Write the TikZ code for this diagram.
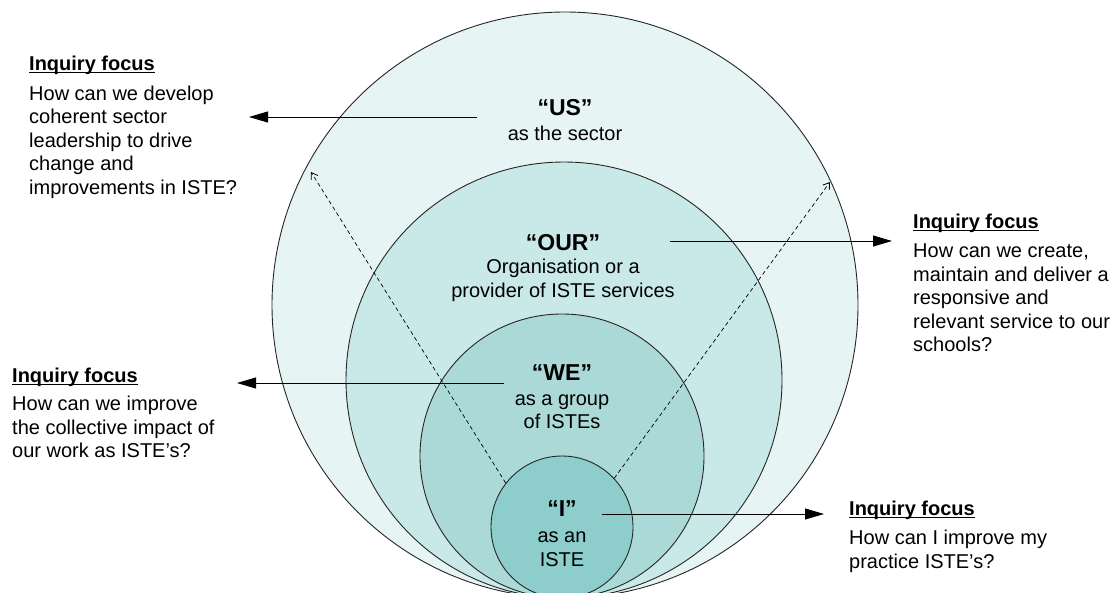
\documentclass[tikz,border=0pt]{standalone}
\usepackage{fontspec}
\setmainfont{Liberation Sans}
\usetikzlibrary{arrows.meta}

\definecolor{ringA}{HTML}{E7F4F4}
\definecolor{ringB}{HTML}{C9E8E8}
\definecolor{ringC}{HTML}{ABD9D8}
\definecolor{ringD}{HTML}{8DCDCB}

% bold heading with a rule just under the baseline
\newcommand\focustitle{\setbox0\hbox{\textbf{Inquiry focus}}\rlap{\rule[-3pt]{\wd0}{1.3pt}}\box0}

\tikzset{
  ring/.style={circle, draw=black!85, line width=0.9pt, inner sep=0pt, minimum size=#1},
  focus/.style={anchor=base west, inner sep=0pt, font=\fontsize{20}{23.5}\selectfont},
  level/.style={anchor=base, inner sep=0pt, font=\fontsize{20}{23.5}\selectfont},
  pointer/.style={line width=0.9pt, -{Triangle[length=19pt,width=11pt]}},
  spoke/.style={line width=0.7pt, dash pattern=on 4pt off 3pt, -{Straight Barb[length=6pt,width=8pt,line width=0.8pt]}}
}

\newcommand\lbl[1]{{\fontsize{23}{23.5}\selectfont\bfseries #1}}

\begin{document}
\begin{tikzpicture}[x=1pt,y=-1pt]
\useasboundingbox (0,0) rectangle (1113,592);
\begin{scope}
\clip (0,0) rectangle (1113,592);

% nested circles, all touching at the bottom
\node[ring=586pt, fill=ringA] (sector) at (565,305) {};
\node[ring=436pt, fill=ringB] (org)    at (564,380) {};
\node[ring=284pt, fill=ringC] (group)  at (562,456) {};
\node[ring=142pt, fill=ringD] (self)   at (562,527) {};

% dashed spokes
\coordinate (spokeL) at (311,172);
\coordinate (spokeR) at (830,182);
\draw[spoke] (self.142) -- (spokeL);
\draw[spoke] (self.43) -- (spokeR);

% arrows out to the inquiry questions
\coordinate (usFrom)  at (477,117);
\coordinate (usTo)    at (249,117);
\coordinate (ourFrom) at (670,241);
\coordinate (ourTo)   at (892,241);
\coordinate (weFrom)  at (504,383);
\coordinate (weTo)    at (237,383);
\coordinate (iFrom)   at (602,514);
\coordinate (iTo)     at (824,514);
\draw[pointer] (usFrom) -- (usTo);
\draw[pointer] (ourFrom) -- (ourTo);
\draw[pointer] (weFrom) -- (weTo);
\draw[pointer] (iFrom) -- (iTo);
\end{scope}

% labels inside the circles
\node[level] (usLbl) at (565,115)
  {\begin{tabular}[t]{@{}c@{}}\lbl{“US”}\\[1.5pt] as the sector\end{tabular}};
\node[level] (ourLbl) at (563,250)
  {\begin{tabular}[t]{@{}c@{}}\lbl{“OUR”}\\ Organisation or a\\ provider of ISTE services\end{tabular}};
\node[level] (weLbl) at (562,380)
  {\begin{tabular}[t]{@{}c@{}}\lbl{“WE”}\\[1.5pt] as a group\\ of ISTEs\end{tabular}};
\node[level] (iLbl) at (562,516)
  {\begin{tabular}[t]{@{}c@{}}\lbl{“I”}\\[3pt] as an\\ ISTE\end{tabular}};

% inquiry focus blocks
\node[focus] (usFocus) at (29,70)
  {\begin{tabular}[t]{@{}l@{}}\focustitle\\[6.5pt] How can we develop\\ coherent sector\\ leadership to drive\\ change and\\ improvements in ISTE?\end{tabular}};
\node[focus] (ourFocus) at (913,228)
  {\begin{tabular}[t]{@{}l@{}}\focustitle\\[6pt] How can we create,\\ maintain and deliver a\\ responsive and\\ relevant service to our\\ schools?\end{tabular}};
\node[focus] (weFocus) at (12,382)
  {\begin{tabular}[t]{@{}l@{}}\focustitle\\[5pt] How can we improve\\ the collective impact of\\ our work as ISTE’s?\end{tabular}};
\node[focus] (iFocus) at (849,515)
  {\begin{tabular}[t]{@{}l@{}}\focustitle\\[6pt] How can I improve my\\ practice ISTE’s?\end{tabular}};
\end{tikzpicture}
\end{document}
